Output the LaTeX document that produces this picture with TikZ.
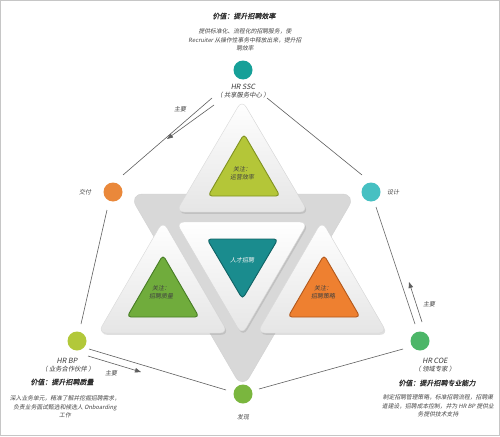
\documentclass[tikz,border=0pt]{standalone}
\usepackage{fontspec}
\newfontfamily\cjk[FakeSlant=0.18]{Noto Sans CJK SC}
\newfontfamily\cjkb[FakeSlant=0.18,FakeBold=1.2]{Noto Sans CJK SC}
\usetikzlibrary{shadows,calc,arrows.meta}
\definecolor{cTeal}{RGB}{22,160,152}
\definecolor{cCyan}{RGB}{70,192,194}
\definecolor{cOrange}{RGB}{234,136,58}
\definecolor{cLime}{RGB}{178,200,58}
\definecolor{cGreen}{RGB}{122,182,62}
\definecolor{cEmerald}{RGB}{76,182,104}
\definecolor{txt}{RGB}{70,70,70}
\definecolor{lineC}{RGB}{95,95,95}
\definecolor{tLime}{RGB}{180,198,56}
\definecolor{tLimeD}{RGB}{128,146,32}
\definecolor{tTeal}{RGB}{26,140,142}
\definecolor{tTealD}{RGB}{16,98,100}
\definecolor{tGreen}{RGB}{112,172,60}
\definecolor{tGreenD}{RGB}{70,124,36}
\definecolor{tOrange}{RGB}{238,128,48}
\definecolor{tOrangeD}{RGB}{178,88,28}
\definecolor{grayStar}{RGB}{216,216,216}
\tikzset{
  dot/.style={circle, minimum size=19pt, inner sep=0pt},
  lbl/.style={font=\cjk\fontsize{6}{7}\selectfont, text=txt, inner sep=0pt},
  hrname/.style={font=\cjk\fontsize{7.2}{8}\selectfont, text=txt!80!black, inner sep=0pt},
  hrsub/.style={font=\cjk\fontsize{6.3}{7}\selectfont, text=txt!80!black, inner sep=0pt},
  ttl/.style={font=\cjkb\fontsize{7}{8}\selectfont, text=txt!70!black, inner sep=0pt},
  desc/.style={font=\cjk\fontsize{5.8}{8.6}\selectfont, text=txt, align=center, inner sep=0pt},
  tritxt/.style={font=\cjk\fontsize{6}{8}\selectfont, text=black!75, align=center, inner sep=0pt},
  conn/.style={draw=lineC, line width=0.6pt},
  arr/.style={conn, -{Triangle[length=6pt,width=4.5pt]}},
  wtri/.style={rounded corners=8pt, top color=white, bottom color=gray!20, draw=gray!30, line width=0.4pt,
    drop shadow={opacity=0.25, shadow xshift=1.2pt, shadow yshift=-1.8pt}},
  ctri/.style={rounded corners=4pt, line width=0.9pt}
}
\begin{document}
\begin{tikzpicture}[x=1pt,y=-1pt]
\useasboundingbox (0,0) rectangle (500,436);
\fill[white] (0,0) rectangle (500,436);
\draw[gray!45, line width=0.8pt] (0.5,0.5) rectangle (499.5,435);

% ---------- central star ----------
\path[rounded corners=14pt, fill=grayStar, draw=gray!35, line width=0.4pt]
  (129,194) -- (356,194) -- (242.5,389) -- cycle;
% white triangles
\path[wtri] (242,100) -- (308,212) -- (176,212) -- cycle;
\path[wtri] (176,222) -- (308,222) -- (242,335) -- cycle;
\path[wtri] (163,221) -- (228,333) -- (98,333) -- cycle;
\path[wtri] (322,221) -- (387,333) -- (257,333) -- cycle;
% coloured triangles
\path[ctri, fill=tLime, draw=tLimeD] (244,134) -- (280,196) -- (208,196) -- cycle;
\path[ctri, fill=tTeal, draw=tTealD] (207,239) -- (278,239) -- (242.5,299) -- cycle;
\path[ctri, fill=tGreen, draw=tGreenD] (163,255) -- (199,317) -- (127,317) -- cycle;
\path[ctri, fill=tOrange, draw=tOrangeD] (324,255) -- (360,317) -- (288,317) -- cycle;
\node[tritxt] (t1) at (242,173) {关注：\\运营效率};
\node[tritxt, text=white!92!gray] (t2) at (242,260) {人才招聘};
\node[tritxt] (t3) at (161,292) {关注：\\招聘质量};
\node[tritxt] (t4) at (323,292) {关注：\\招聘策略};

% ---------- outer nodes ----------
\node[dot, fill=cTeal] (ssc) at (243,70) {};
\node[hrname] (sscn) at (243,87) {HR SSC};
\node[hrsub] (sscs) at (243,95.5) {（ 共享服务中心 ）};
\node[ttl] (sscv) at (244,16) {价值：提升招聘效率};
\node[desc] (sscd) at (245,40) {提供标准化、流程化的招聘服务，使\\Recruiter 从操作性事务中释放出来，提升招\\聘效率};

\node[dot, fill=cOrange] (del) at (113,192) {};
\node[lbl] (deln) at (85,192) {交付};
\node[dot, fill=cCyan] (des) at (371,192) {};
\node[lbl] (desn) at (393,192) {设计};

\node[dot, fill=cLime] (bp) at (77,341) {};
\node[hrname] (bpn) at (67,361) {HR BP};
\node[hrsub] (bps) at (68,369.5) {（ 业务合作伙伴 ）};
\node[ttl] (bpv) at (62,382) {价值：提升招聘质量};
\node[desc] (bpd) at (65,407) {深入业务单元，精准了解并挖掘招聘需求，\\负责业务面试甄选和候选人 Onboarding\\工作};

\node[dot, fill=cEmerald] (coe) at (420,341) {};
\node[hrname] (coen) at (435,361) {HR COE};
\node[hrsub] (coes) at (435,369.5) {（ 领域专家 ）};
\node[ttl] (coev) at (437,383) {价值：提升招聘专业能力};
\node[desc] (coed) at (438,406) {制定招聘管理策略，标准招聘流程，招聘渠\\道建设，招聘成本控制，并为 HR BP 提供业\\务提供技术支持};

\node[dot, fill=cGreen] (fx) at (243,394) {};
\node[lbl] (fxn) at (243,417) {发现};

% ---------- connectors ----------
\coordinate (a1) at (212,98);  \coordinate (a2) at (123,175);
\coordinate (b1) at (267,98);  \coordinate (b2) at (362,175);
\coordinate (c1) at (376,207); \coordinate (c2) at (415,324);
\coordinate (d1) at (107,210); \coordinate (d2) at (81,324);
\coordinate (e1) at (89,349);  \coordinate (e2) at (226,390);
\coordinate (f1) at (259,389); \coordinate (f2) at (403,349);
\draw[conn] (a1) -- (a2);
\draw[conn] (b1) -- (b2);
\draw[conn] (c1) -- (c2);
\draw[conn] (d1) -- (d2);
\draw[conn] (e1) -- (e2);
\draw[conn] (f1) -- (f2);

\coordinate (aa1) at (214,105); \coordinate (aa2) at (167,139);
\coordinate (ea1) at (88,356);  \coordinate (ea2) at (141,372);
\coordinate (ca1) at (422,322); \coordinate (ca2) at (409,282);
\draw[arr] (aa1) -- (aa2);
\draw[arr] (ea1) -- (ea2);
\draw[arr] (ca1) -- (ca2);
\node[lbl] (m1) at (180,109) {主要};
\node[lbl] (m2) at (111,373) {主要};
\node[lbl] (m3) at (429,304) {主要};
\end{tikzpicture}
\end{document}
